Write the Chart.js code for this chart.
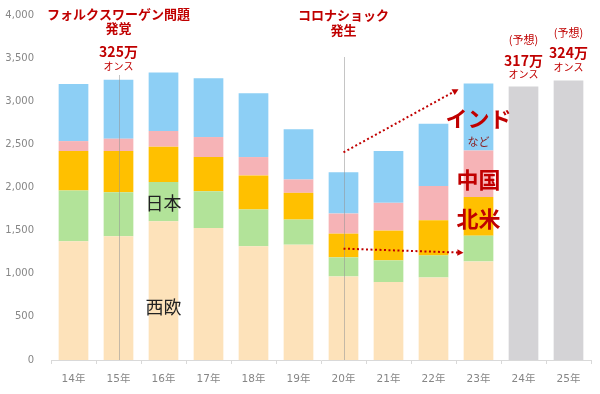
<!DOCTYPE html>
<html lang="ja">
<head>
<meta charset="utf-8">
<script src="https://cdn.jsdelivr.net/npm/chart.js@4/dist/chart.umd.min.js"></script>
<style>
  html, body { margin: 0; padding: 0; background: #fff; }
  #wrap { width: 600px; height: 394px; }
</style>
</head>
<body>
<div id="wrap"><canvas id="chart" width="600" height="394"></canvas></div>
<script>
// 需要量（千オンス）: 地域別の積み上げ
const years = ['14年', '15年', '16年', '17年', '18年', '19年', '20年', '21年', '22年', '23年', '24年', '25年'];
const westEurope   = [1376, 1434, 1609, 1531, 1318, 1337, 969, 903, 957, 1143, null, null];
const japan        = [589, 512, 456, 426, 426, 291, 221, 252, 256, 299, null, null];
const northAmerica = [457, 476, 408, 396, 396, 310, 275, 345, 407, 449, null, null];
const china        = [116, 144, 182, 232, 213, 155, 233, 322, 396, 539, null, null];
const indiaOthers  = [662, 684, 679, 682, 740, 581, 480, 600, 724, 775, null, null];
const forecast     = [null, null, null, null, null, null, null, null, null, null, 3170, 3240];
const yTicks = [0, 500, 1000, 1500, 2000, 2500, 3000, 3500, 4000];

const RED = '#C00000';
const JP = "'Noto Sans CJK JP', sans-serif";

function text(ctx, str, x, y, size, color, bold) {
  ctx.font = (bold ? 'bold ' : '') + size + 'px ' + JP;
  ctx.fillStyle = color;
  ctx.textAlign = 'center';
  ctx.textBaseline = 'middle';
  ctx.fillText(str, x, y);
}

function dottedArrow(ctx, x1, y1, x2, y2) {
  ctx.save();
  ctx.strokeStyle = RED;
  ctx.fillStyle = RED;
  ctx.lineWidth = 2;
  ctx.setLineDash([2, 2.5]);
  const a = Math.atan2(y2 - y1, x2 - x1);
  const ex = x2 - Math.cos(a) * 5, ey = y2 - Math.sin(a) * 5;
  ctx.beginPath();
  ctx.moveTo(x1, y1);
  ctx.lineTo(ex, ey);
  ctx.stroke();
  ctx.setLineDash([]);
  ctx.beginPath();
  ctx.moveTo(x2, y2);
  ctx.lineTo(x2 - Math.cos(a - 0.5) * 7, y2 - Math.sin(a - 0.5) * 7);
  ctx.lineTo(x2 - Math.cos(a + 0.5) * 7, y2 - Math.sin(a + 0.5) * 7);
  ctx.closePath();
  ctx.fill();
  ctx.restore();
}

const annotations = {
  id: 'annotations',
  afterDatasetsDraw(chart) {
    const { ctx, scales: { x, y } } = chart;
    const cx = i => x.getPixelForValue(i);
    ctx.save();

    // event markers
    ctx.strokeStyle = 'rgba(150,150,150,0.55)';
    ctx.lineWidth = 1;
    ctx.beginPath();
    ctx.moveTo(Math.round(cx(1)) + 0.5, 75);
    ctx.lineTo(Math.round(cx(1)) + 0.5, y.bottom);
    ctx.moveTo(Math.round(cx(6)) + 0.5, 57);
    ctx.lineTo(Math.round(cx(6)) + 0.5, y.bottom);
    ctx.stroke();

    text(ctx, 'フォルクスワーゲン問題', cx(1), 14, 13, RED, true);
    text(ctx, '発覚', cx(1), 28, 13, RED, true);
    text(ctx, '325万', cx(1), 52, 14, RED, true);
    text(ctx, 'オンス', cx(1), 66, 10, RED, false);

    text(ctx, 'コロナショック', cx(6), 15, 13, RED, true);
    text(ctx, '発生', cx(6), 30, 13, RED, true);

    text(ctx, '(予想)', cx(10), 40, 11, RED, false);
    text(ctx, '317万', cx(10), 61, 14, RED, true);
    text(ctx, 'オンス', cx(10), 74, 10, RED, false);
    text(ctx, '(予想)', cx(11), 33, 11, RED, false);
    text(ctx, '324万', cx(11), 53, 14, RED, true);
    text(ctx, 'オンス', cx(11), 67, 10, RED, false);

    text(ctx, 'インド', cx(9), 119, 22, RED, true);
    text(ctx, 'など', cx(9), 142, 11, '#8B1a1a', false);
    text(ctx, '中国', cx(9), 180, 22, RED, true);
    text(ctx, '北米', cx(9), 219, 22, RED, true);

    text(ctx, '日本', cx(2), 203, 18, '#222', false);
    text(ctx, '西欧', cx(2), 307, 18, '#222', false);

    dottedArrow(ctx, cx(6), y.getPixelForValue(2407), cx(9) - 20, y.getPixelForValue(3140));
    dottedArrow(ctx, cx(6), y.getPixelForValue(1291), cx(9) - 15, y.getPixelForValue(1244));

    ctx.restore();
  }
};

function barSet(label, data, color) {
  return { label, data, backgroundColor: color, stack: 'demand', barPercentage: 0.66, categoryPercentage: 1.0 };
}

new Chart(document.getElementById('chart'), {
  type: 'bar',
  data: {
    labels: years,
    datasets: [
      barSet('西欧', westEurope, '#FDE2BA'),
      barSet('日本', japan, '#B2E399'),
      barSet('北米', northAmerica, '#FFC000'),
      barSet('中国', china, '#F6B3B6'),
      barSet('インドなど', indiaOthers, '#8DCFF5'),
      barSet('予想', forecast, '#D4D3D6'),
    ],
  },
  options: {
    responsive: false,
    animation: false,
    layout: { padding: { top: 15, right: 9, left: 0, bottom: 0 } },
    plugins: { legend: { display: false }, tooltip: { enabled: false } },
    scales: {
      x: {
        stacked: true,
        offset: true,
        grid: { display: true, drawOnChartArea: false, offset: true, tickLength: 4, color: '#d9d9d9' },
        border: { color: '#d9d9d9' },
        ticks: { color: '#868686', padding: 9, font: { family: "'DejaVu Sans', 'Noto Sans CJK JP'", size: 10.5 } },
        afterFit: s => { s.height = 34; },
      },
      y: {
        stacked: true,
        min: 0,
        max: 4000,
        afterBuildTicks: s => { s.ticks = yTicks.map(v => ({ value: v })); },
        grid: { display: false, tickLength: 12 },
        border: { display: false },
        ticks: {
          color: '#868686',
          padding: 5,
          font: { family: "'DejaVu Sans'", size: 10 },
          callback: v => v.toLocaleString('en-US'),
        },
        afterFit: s => { s.width = 51; },
      },
    },
  },
  plugins: [annotations],
});
</script>
</body>
</html>
